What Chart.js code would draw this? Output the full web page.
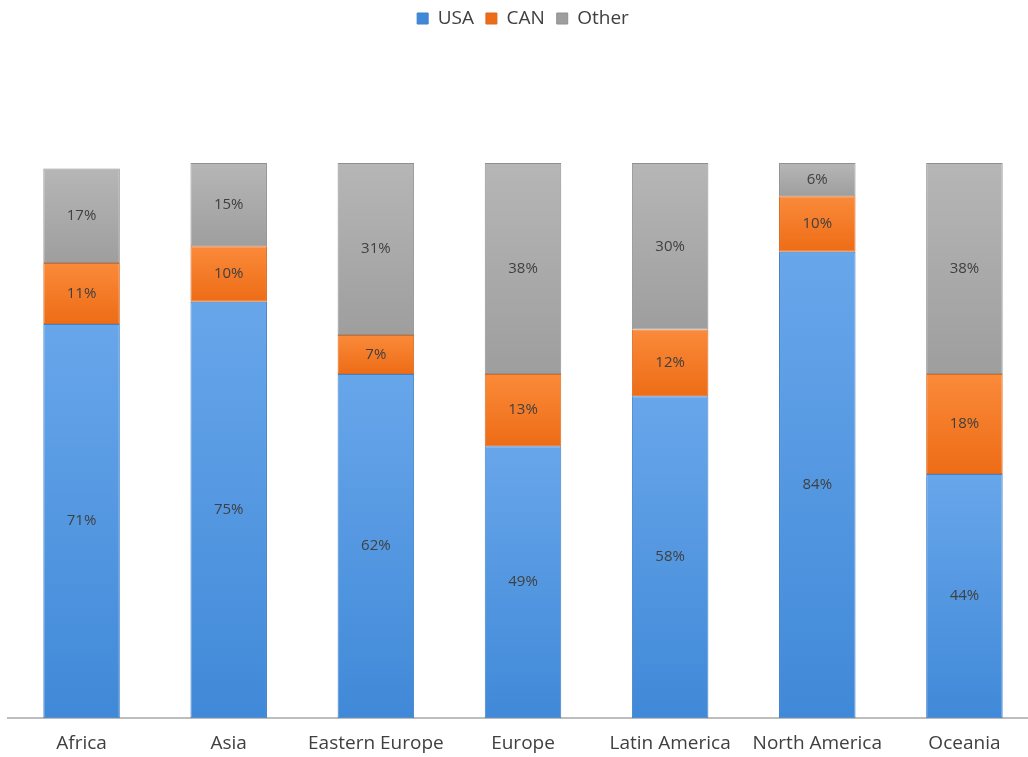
<!DOCTYPE html>
<html>
<head>
<meta charset="utf-8">
<script src="https://cdn.jsdelivr.net/npm/chart.js@4"></script>
<style>
  html, body { margin: 0; padding: 0; background: #fff; overflow: hidden; }
  #wrap { width: 1040px; height: 769px; position: relative; }
</style>
</head>
<body>
<div id="wrap"><canvas id="chart"></canvas></div>
<script>
const regions = [
  "Africa", "Asia", "Eastern Europe", "Europe",
  "Latin America", "North America", "Oceania",
];
const usa = [71, 75, 62, 49, 58, 84, 44];
const can = [11, 10, 7, 13, 12, 10, 18];
const other = [17, 15, 31, 38, 30, 6, 38];

const series = [usa, can, other];

// top / bottom shades for each segment gradient
const shades = [
  ["#68a6ea", "#4089d8"],
  ["#fa8a3a", "#ee6c16"],
  ["#b6b6b6", "#9e9e9e"],
];
const borders = ["#3f80c8", "#d96a22", "#909090"];

function segmentFill(ctx) {
  const chart = ctx.chart;
  const ds = ctx.datasetIndex;
  const i = ctx.dataIndex;
  const [top, bottom] = shades[ds];
  if (!chart.chartArea || i === undefined) return top;
  let start = 0;
  for (let k = 0; k < ds; k++) start += series[k][i];
  const end = start + series[ds][i];
  const y = chart.scales.y;
  const g = chart.ctx.createLinearGradient(0, y.getPixelForValue(end), 0, y.getPixelForValue(start));
  g.addColorStop(0, top);
  g.addColorStop(1, bottom);
  return g;
}

const fontFamily = "'Open Sans', sans-serif";
const textColor = "#404040";

// extra room under the legend
const legendGap = {
  id: "legendGap",
  beforeInit(chart) {
    const fit = chart.legend.fit;
    chart.legend.fit = function () {
      fit.bind(chart.legend)();
      this.height += 125;
    };
  },
};

// percentage labels centred in each segment
const segmentLabels = {
  id: "segmentLabels",
  afterDatasetsDraw(chart) {
    const c = chart.ctx;
    c.save();
    c.font = "15px " + fontFamily;
    c.fillStyle = textColor;
    c.textAlign = "center";
    c.textBaseline = "middle";
    chart.data.datasets.forEach((ds, di) => {
      const meta = chart.getDatasetMeta(di);
      meta.data.forEach((bar, i) => {
        const mid = (bar.y + bar.base) / 2;
        c.fillText(ds.data[i] + "%", bar.x, mid);
      });
    });
    c.restore();
  },
};

const names = ["USA", "CAN", "Other"];

new Chart(document.getElementById("chart"), {
  type: "bar",
  data: {
    labels: regions,
    datasets: series.map((values, k) => ({
      label: names[k],
      data: values,
      backgroundColor: segmentFill,
      borderColor: borders[k],
      borderWidth: 1,
      borderSkipped: false,
      barPercentage: 0.52,
      categoryPercentage: 1,
    })),
  },
  options: {
    responsive: true,
    maintainAspectRatio: false,
    animation: false,
    layout: { padding: { left: 8, right: 2, top: -3, bottom: 0 } },
    plugins: {
      legend: {
        position: "top",
        labels: {
          boxWidth: 11,
          boxHeight: 11,
          padding: 12,
          color: textColor,
          font: { family: fontFamily, size: 19 },
          generateLabels(chart) {
            return names.map((n, k) => ({
              text: n,
              fillStyle: shades[k][1],
              strokeStyle: borders[k],
              lineWidth: 1,
              datasetIndex: k,
              fontColor: textColor,
            }));
          },
        },
      },
      tooltip: { enabled: false },
    },
    scales: {
      x: {
        stacked: true,
        grid: { display: false, drawTicks: false },
        border: { color: "#bdbdbd", width: 2 },
        ticks: {
          color: textColor,
          font: { family: fontFamily, size: 19 },
          padding: 14,
          maxRotation: 0,
        },
      },
      y: {
        stacked: true,
        display: false,
        min: 0,
        max: 100,
      },
    },
  },
  plugins: [legendGap, segmentLabels],
});
</script>
</body>
</html>
